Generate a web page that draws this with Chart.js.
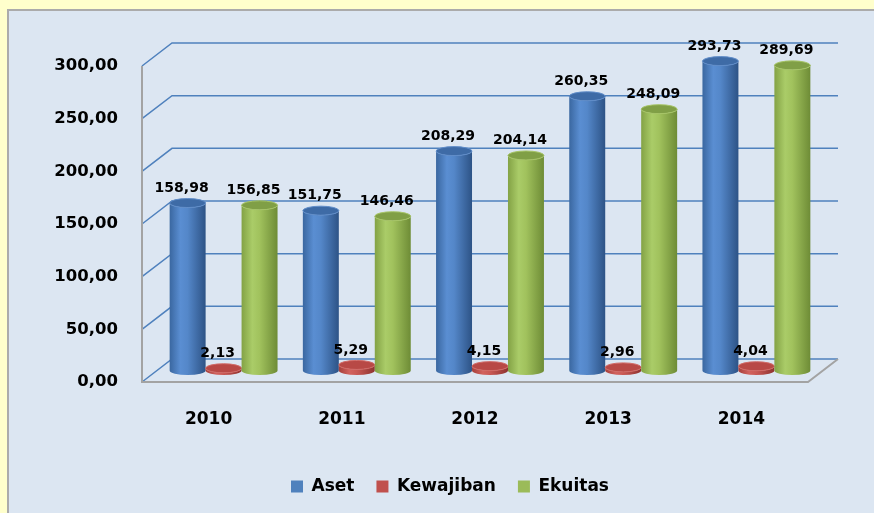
<!DOCTYPE html>
<html><head><meta charset="utf-8">
<script src="https://cdn.jsdelivr.net/npm/chart.js@4.4.0/dist/chart.umd.min.js"></script>
<style>
html,body{margin:0;padding:0;width:874px;height:513px;overflow:hidden;background:#FFFFCC;}
#panel{position:absolute;left:7px;top:9px;width:880px;height:520px;background:#DCE6F2;border:2px solid #ABABAB;box-sizing:border-box;}
#wrap{position:absolute;left:0;top:0;width:874px;height:505px;}
</style></head><body>
<div id="panel"></div>
<div id="wrap"><canvas id="c" width="874" height="505"></canvas></div>
<script>
const categories = ['2010', '2011', '2012', '2013', '2014'];
const seriesNames = ['Aset', 'Kewajiban', 'Ekuitas'];
const aset = [158.98, 151.75, 208.29, 260.35, 293.73];
const kewajiban = [2.13, 5.29, 4.15, 2.96, 4.04];
const ekuitas = [156.85, 146.46, 204.14, 248.09, 289.69];
const yTicks = [0, 50, 100, 150, 200, 250, 300];

const legendColors = ['#4F81BD', '#C0504D', '#9BBB59'];
const cylStyles = [
  { body: [[0, '#3A67A0'], [0.3, '#5A8ED2'], [0.5, '#5487C9'], [1, '#2D5386']], top: '#3E6BA6', rim: '#5F8CC8' },
  { body: [[0, '#A53F3B'], [0.3, '#D2625E'], [0.5, '#C95955'], [1, '#8E3330']], top: '#B84946', rim: '#D06A66' },
  { body: [[0, '#83A245'], [0.3, '#AACC68'], [0.5, '#A1C25D'], [1, '#6E8C36']], top: '#809F46', rim: '#A6C466' }
];

const fmt = v => Number(v).toFixed(2).replace('.', ',');
const DEPTH_X = 30, DEPTH_Y = -23, MID_X = 15, MID_Y = -11.5, RY = 4.5;
const FONT = "'DejaVu Sans'";

function drawCylinder(ctx, cx, yt, yb, rx, ry, st) {
  const g = ctx.createLinearGradient(cx - rx, 0, cx + rx, 0);
  st.body.forEach(([o, c]) => g.addColorStop(o, c));
  ctx.beginPath();
  ctx.moveTo(cx - rx, yt);
  ctx.lineTo(cx - rx, yb);
  ctx.ellipse(cx, yb, rx, ry, 0, Math.PI, 0, true);
  ctx.lineTo(cx + rx, yt);
  ctx.ellipse(cx, yt, rx, ry, 0, 0, Math.PI, false);
  ctx.closePath();
  ctx.fillStyle = g;
  ctx.fill();
  ctx.beginPath();
  ctx.ellipse(cx, yt, rx, ry, 0, 0, Math.PI * 2);
  ctx.fillStyle = st.top;
  ctx.fill();
  ctx.strokeStyle = st.rim;
  ctx.lineWidth = 1;
  ctx.stroke();
}

const plugin3d = {
  id: 'cyl3d',
  beforeDatasetsDraw(chart) {
    const { ctx, chartArea: a, scales: { y } } = chart;
    ctx.save();
    ctx.strokeStyle = '#4F81BD';
    ctx.lineWidth = 1.5;
    yTicks.forEach(v => {
      const py = y.getPixelForValue(v);
      ctx.beginPath();
      ctx.moveTo(a.left, py);
      ctx.lineTo(a.left + DEPTH_X, py + DEPTH_Y);
      ctx.lineTo(a.right + DEPTH_X, py + DEPTH_Y);
      ctx.stroke();
    });
    const p0 = y.getPixelForValue(0);
    const pTop = y.getPixelForValue(yTicks[yTicks.length - 1]);
    ctx.strokeStyle = '#A3A3A3';
    ctx.lineWidth = 2;
    ctx.beginPath();
    ctx.moveTo(a.left, pTop);
    ctx.lineTo(a.left, p0);
    ctx.lineTo(a.right, p0);
    ctx.lineTo(a.right + DEPTH_X, p0 + DEPTH_Y);
    ctx.stroke();

    const metas = chart.data.datasets.map((d, i) => chart.getDatasetMeta(i));
    const labels = [];
    for (let j = 0; j < categories.length; j++) {
      for (let i = 0; i < metas.length; i++) {
        const bar = metas[i].data[j];
        const p = bar.getProps(['x', 'y', 'base', 'width'], true);
        const cx = p.x + MID_X;
        const yt = p.y + MID_Y;
        drawCylinder(ctx, cx, yt, p.base + MID_Y, p.width / 2, RY, cylStyles[i]);
        labels.push([fmt(chart.data.datasets[i].data[j]), p.x + 9, yt - 15]);
      }
    }
    ctx.fillStyle = '#000';
    ctx.font = "bold 14px " + FONT;
    ctx.textAlign = 'center';
    ctx.textBaseline = 'middle';
    labels.forEach(([t, x, yy]) => ctx.fillText(t, x, yy));
    ctx.restore();
    return false;
  }
};

new Chart(document.getElementById('c'), {
  type: 'bar',
  data: {
    labels: categories,
    datasets: [
      { label: seriesNames[0], data: aset, backgroundColor: legendColors[0], borderWidth: 0 },
      { label: seriesNames[1], data: kewajiban, backgroundColor: legendColors[1], borderWidth: 0 },
      { label: seriesNames[2], data: ekuitas, backgroundColor: legendColors[2], borderWidth: 0 }
    ]
  },
  options: {
    responsive: false,
    animation: false,
    devicePixelRatio: 1,
    categoryPercentage: 0.81,
    barPercentage: 1,
    layout: { padding: { left: 26, top: 66, right: 0, bottom: 0 } },
    plugins: {
      tooltip: { enabled: false },
      legend: {
        position: 'bottom',
        labels: {
          boxWidth: 12, boxHeight: 12, padding: 22, color: '#000',
          font: { family: FONT, weight: 'bold', size: 17 }
        }
      }
    },
    scales: {
      x: {
        grid: { display: false, drawTicks: false },
        border: { display: false },
        ticks: { color: '#000', padding: 27, font: { family: FONT, weight: 'bold', size: 17 } },
        afterFit(s) { s.height = 74; }
      },
      y: {
        min: 0, max: 300,
        afterBuildTicks(s) { s.ticks = yTicks.map(v => ({ value: v })); },
        grid: { display: false, drawTicks: false },
        border: { display: false },
        ticks: { color: '#000', padding: 24, callback: v => fmt(v), font: { family: FONT, weight: 'bold', size: 16.5 } },
        afterFit(s) { s.width = 116; }
      },
      yR: {
        position: 'right',
        display: true,
        grid: { display: false, drawTicks: false },
        border: { display: false },
        ticks: { display: false },
        afterFit(s) { s.width = 66; }
      }
    }
  },
  plugins: [plugin3d]
});
</script>
</body></html>
